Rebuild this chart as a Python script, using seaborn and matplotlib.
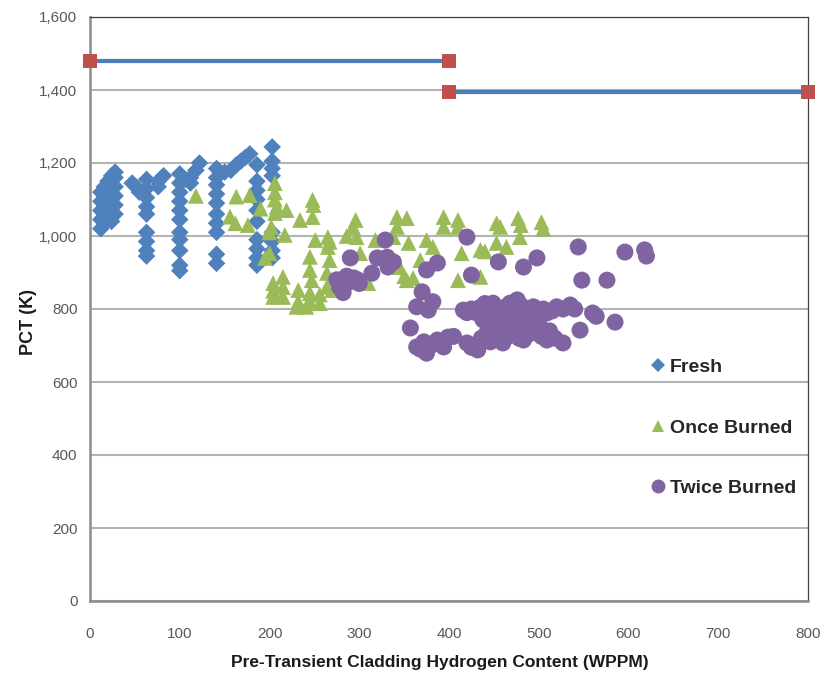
import numpy as np
import pandas as pd
import matplotlib
matplotlib.use("Agg")
import matplotlib.pyplot as plt
import seaborn as sns
from matplotlib.lines import Line2D

# ---------------- data ----------------
fresh_x = [12]*5 + [16]*5 + [20]*5 + [24]*6 + [28]*6 + [47, 51, 55] + [63]*9 + [76, 76, 82] \
    + [100]*11 + [106, 112, 112, 118, 122] + [141]*10 + [150, 157, 163, 168, 173, 178] + [186]*10 + [203]*8
fresh_y = [1020, 1045, 1070, 1095, 1120,
           1035, 1060, 1085, 1110, 1135,
           1050, 1075, 1100, 1125, 1150,
           1040, 1065, 1090, 1115, 1140, 1165,
           1060, 1085, 1110, 1135, 1160, 1175,
           1145, 1135, 1120,
           1155, 1130, 1105, 1080, 1060, 1010, 985, 960, 945,
           1135, 1150, 1165,
           1170, 1145, 1120, 1095, 1070, 1045, 1010, 990, 960, 920, 905,
           1155, 1145, 1160, 1180, 1200,
           1185, 1160, 1140, 1115, 1090, 1060, 1035, 1010, 950, 925,
           1175, 1180, 1195, 1205, 1215, 1225,
           1195, 1150, 1125, 1100, 1070, 1040, 990, 965, 940, 920,
           1244, 1205, 1185, 1165, 1010, 985, 960, 940]

once_x = [118, 163, 178, 156, 162, 176, 190, 195, 206, 206, 206, 208, 206, 202, 200, 200,
          219, 217, 234, 248, 249, 248, 251, 265, 267, 265, 245, 245, 247, 264, 264,
          215, 215, 215, 204, 204, 204, 232, 232, 230, 241, 245, 245, 256, 256, 270, 267,
          286, 293, 296, 297, 301, 310, 318, 338, 342, 353, 342, 355, 345, 353, 360, 350,
          375, 382, 368, 394, 394, 410, 410, 414, 410, 435, 440, 435, 453, 453, 464, 477,
          479, 503, 505, 480, 457]
once_y = [1110, 1108, 1112, 1053, 1035, 1030, 1075, 940, 1145, 1120, 1100, 1080, 1063, 1025, 1010, 953,
          1071, 1003, 1044, 1099, 1085, 1052, 989, 997, 984, 970, 943, 907, 879, 899, 861,
          888, 860, 833, 871, 850, 833, 852, 820, 806, 806, 844, 820, 840, 816, 852, 934,
          1000, 1025, 1044, 997, 953, 871, 989, 997, 1052, 1049, 1025, 981, 915, 879, 885, 890,
          989, 970, 934, 1052, 1025, 1044, 1025, 953, 879, 962, 958, 888, 1035, 981, 970, 1049,
          997, 1038, 1020, 1030, 1025]

twice_x = [275, 278, 282, 286, 290, 294, 298, 300, 290,
           314, 320, 329, 331, 338, 332,
           357, 364, 370, 375, 382, 387, 377, 364, 368, 375, 380, 387, 394, 399, 405, 372,
           420, 425, 455, 483, 498, 544, 548, 576, 596, 618, 620, 560, 564, 546, 585, 527,
           416, 420, 425, 431, 435, 440, 445, 449, 453, 457, 462, 468, 472, 476, 480, 487,
           490, 494, 500, 505, 509, 515, 520, 527, 535, 540,
           420, 425, 432, 436, 442, 446, 450, 457, 460, 465, 470, 474, 478, 483, 488, 492,
           498, 503, 509, 512, 518,
           438, 445, 455, 465, 480, 500]
twice_y = [880, 860, 845, 890, 875, 885, 880, 870, 940,
           898, 940, 989, 942, 929, 915,
           748, 806, 847, 907, 820, 926, 797, 696, 690, 679, 700, 715, 696, 723, 725, 710,
           997, 893, 929, 915, 940, 970, 879, 879, 956, 962, 945, 789, 780, 742, 764, 707,
           797, 790, 800, 789, 805, 815, 800, 816, 778, 790, 805, 816, 800, 825, 810, 789,
           800, 806, 795, 800, 789, 795, 806, 800, 811, 800,
           707, 695, 688, 720, 734, 710, 750, 742, 707, 725, 735, 751, 720, 715, 730, 745,
           742, 725, 715, 740, 720,
           770, 760, 765, 770, 765, 760]

limit1_x = [0, 400]
limit1_y = [1480, 1480]
limit2_x = [400, 800]
limit2_y = [1395, 1395]

series_names = ["Fresh", "Once Burned", "Twice Burned"]
xticks = [0, 100, 200, 300, 400, 500, 600, 700, 800]
yticks = [0, 200, 400, 600, 800, 1000, 1200, 1400, 1600]

# ---------------- build frame ----------------
df = pd.DataFrame({
    "x": fresh_x + once_x + twice_x,
    "y": fresh_y + once_y + twice_y,
    "series": ["Fresh"] * len(fresh_x) + ["Once Burned"] * len(once_x) + ["Twice Burned"] * len(twice_x),
})

sns.set_style("white")
plt.rcParams['font.family'] = ['Liberation Sans', 'DejaVu Sans']

colors = {"Fresh": "#4F81BD", "Once Burned": "#9BBB59", "Twice Burned": "#8064A2"}
markers = {"Fresh": "D", "Once Burned": "^", "Twice Burned": "o"}
sizes = {"Fresh": 80, "Once Burned": 130, "Twice Burned": 150}

fig = plt.figure(figsize=(8.23, 6.76), dpi=100)
ax = fig.add_axes([90/823, 75/676, (808-90)/823, (601-17)/676])

for name in series_names:
    sub = df[df.series == name]
    sns.scatterplot(data=sub, x="x", y="y", ax=ax, color=colors[name], marker=markers[name],
                    s=sizes[name], edgecolor="none", linewidth=0, legend=False, zorder=3)

# limit lines
sns.lineplot(x=limit1_x, y=limit1_y, ax=ax, color="#4A7EBB", lw=3, zorder=4)
sns.lineplot(x=limit2_x, y=limit2_y, ax=ax, color="#4A7EBB", lw=3, zorder=4)
ax.scatter(limit1_x + limit2_x, limit1_y + limit2_y, marker="s", s=110, color="#C0504D",
           zorder=5, linewidths=0, clip_on=False)

ax.set_xlim(0, 800)
ax.set_ylim(0, 1600)
ax.set_xticks(xticks)
ax.set_yticks(yticks)
ax.set_xticklabels([str(t) for t in xticks])
ax.set_yticklabels([f"{t:,}" for t in yticks])
ax.yaxis.grid(True, color="#B3B3B3", lw=1.5, zorder=0)
ax.xaxis.grid(False)
ax.set_axisbelow(True)

for s in ["left", "bottom"]:
    ax.spines[s].set_color("#8C8C8C")
    ax.spines[s].set_linewidth(1.8)
for s in ["top", "right"]:
    ax.spines[s].set_color("#404040")
    ax.spines[s].set_linewidth(0.9)

ax.tick_params(axis="both", direction="out", length=5, width=1, color="#8C8C8C",
               labelsize=11, labelcolor="#595959")
ax.tick_params(axis="y", pad=4)
ax.tick_params(axis="x", pad=14)

ax.set_xlabel("Pre-Transient Cladding Hydrogen Content (WPPM)", fontsize=12.5, fontweight="bold",
              color="#1a1a1a")
ax.set_ylabel("PCT (K)", fontsize=13, fontweight="bold", color="#1a1a1a")
ax.xaxis.set_label_coords(0.4875, -0.092)
ax.yaxis.set_label_coords(-0.074, 0.478)

handles = [Line2D([], [], linestyle="none", marker=markers[n], color=colors[n],
                  markersize={"Fresh": 7, "Once Burned": 9, "Twice Burned": 10}[n],
                  markeredgewidth=0) for n in series_names]
leg = ax.legend(handles, series_names, loc="upper left", bbox_to_anchor=(0.755, 0.445),
                frameon=False, labelspacing=2.2, handletextpad=0.15, handlelength=0.9,
                prop={"weight": "bold", "size": 14})

fig.savefig("out.png", dpi=100)
